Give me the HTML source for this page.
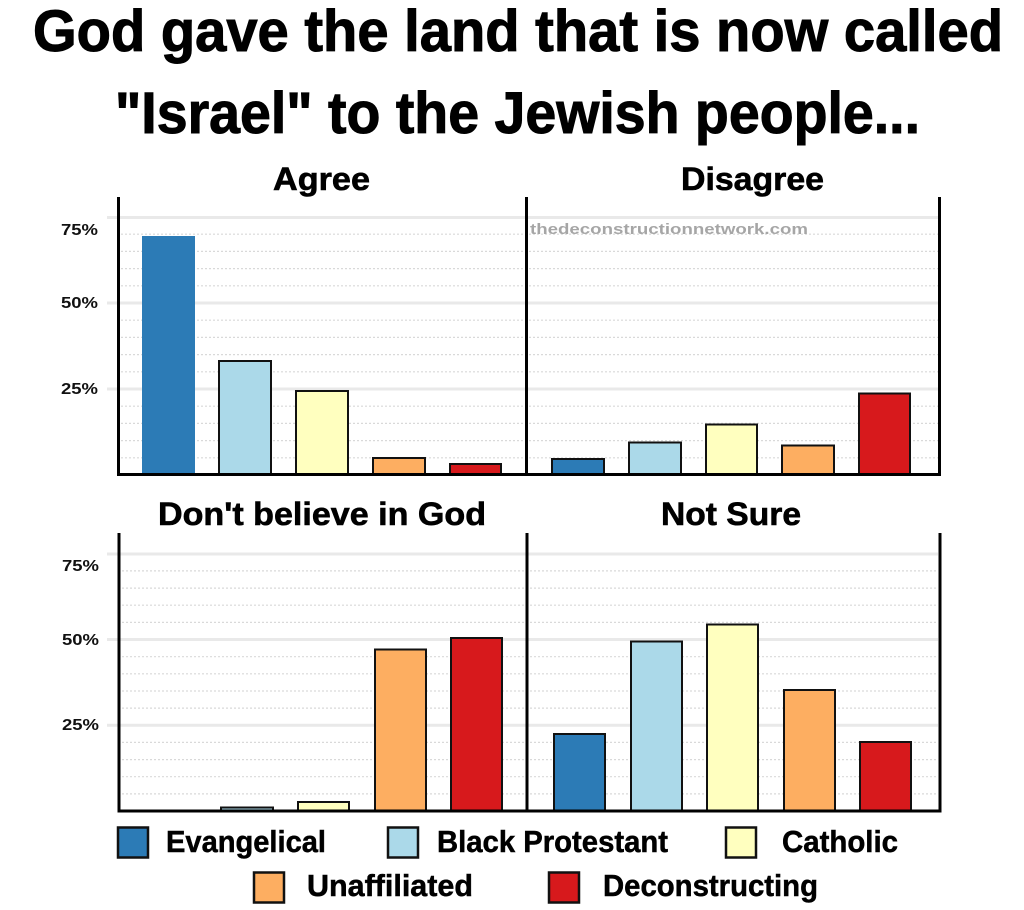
<!DOCTYPE html>
<html>
<head>
<meta charset="utf-8">
<style>
  html, body { margin: 0; padding: 0; background: #ffffff; }
  body { width: 1024px; height: 910px; overflow: hidden; }
  svg { display: block; }
  text { font-family: "Liberation Sans", Arial, sans-serif; font-weight: bold; }
</style>
</head>
<body>
<svg width="1024" height="910" viewBox="0 0 1024 910" xmlns="http://www.w3.org/2000/svg">
  <rect x="0" y="0" width="1024" height="910" fill="#ffffff"/>

  <!-- Main title -->
  <text x="33" y="51" font-size="58" fill="#000" stroke="#000" stroke-width="1" textLength="970" lengthAdjust="spacingAndGlyphs">God gave the land that is now called</text>
  <text x="115" y="133" font-size="58" fill="#000" stroke="#000" stroke-width="1" textLength="805" lengthAdjust="spacingAndGlyphs">"Israel" to the Jewish people...</text>

  <!-- Panel titles -->
  <g fill="#000" stroke="#000" stroke-width="0.6" font-size="32">
    <text x="273" y="190" textLength="97" lengthAdjust="spacingAndGlyphs">Agree</text>
    <text x="681" y="190" textLength="143" lengthAdjust="spacingAndGlyphs">Disagree</text>
    <text x="158" y="525" textLength="328" lengthAdjust="spacingAndGlyphs">Don't believe in God</text>
    <text x="661" y="525" textLength="140" lengthAdjust="spacingAndGlyphs">Not Sure</text>
  </g>

  <!-- ===== TOP ROW GRID ===== -->
  <g stroke="#d9d9d9" stroke-width="1.2" stroke-dasharray="2,2" fill="none">
    <line x1="121" x2="938" y1="457.8" y2="457.8"/>
    <line x1="121" x2="938" y1="440.6" y2="440.6"/>
    <line x1="121" x2="938" y1="423.4" y2="423.4"/>
    <line x1="121" x2="938" y1="406.2" y2="406.2"/>
    <line x1="121" x2="938" y1="371.8" y2="371.8"/>
    <line x1="121" x2="938" y1="354.6" y2="354.6"/>
    <line x1="121" x2="938" y1="337.4" y2="337.4"/>
    <line x1="121" x2="938" y1="320.2" y2="320.2"/>
    <line x1="121" x2="938" y1="285.8" y2="285.8"/>
    <line x1="121" x2="938" y1="268.6" y2="268.6"/>
    <line x1="121" x2="938" y1="251.4" y2="251.4"/>
    <line x1="121" x2="938" y1="234.2" y2="234.2"/>
  </g>
  <g stroke="#e9e9e9" stroke-width="3" fill="none">
    <line x1="107" x2="938" y1="217.5" y2="217.5"/>
    <line x1="107" x2="938" y1="303" y2="303"/>
    <line x1="107" x2="938" y1="389" y2="389"/>
  </g>

  <!-- ===== BOTTOM ROW GRID ===== -->
  <g stroke="#d9d9d9" stroke-width="1.2" stroke-dasharray="2,2" fill="none">
    <line x1="122" x2="938" y1="793.9" y2="793.9"/>
    <line x1="122" x2="938" y1="776.7" y2="776.7"/>
    <line x1="122" x2="938" y1="759.6" y2="759.6"/>
    <line x1="122" x2="938" y1="742.4" y2="742.4"/>
    <line x1="122" x2="938" y1="708.1" y2="708.1"/>
    <line x1="122" x2="938" y1="691" y2="691"/>
    <line x1="122" x2="938" y1="673.8" y2="673.8"/>
    <line x1="122" x2="938" y1="656.7" y2="656.7"/>
    <line x1="122" x2="938" y1="622.4" y2="622.4"/>
    <line x1="122" x2="938" y1="605.2" y2="605.2"/>
    <line x1="122" x2="938" y1="588.1" y2="588.1"/>
    <line x1="122" x2="938" y1="570.9" y2="570.9"/>
  </g>
  <g stroke="#e9e9e9" stroke-width="3" fill="none">
    <line x1="107" x2="938" y1="554" y2="554"/>
    <line x1="107" x2="938" y1="639.5" y2="639.5"/>
    <line x1="107" x2="938" y1="725.3" y2="725.3"/>
  </g>

  <!-- Watermark -->
  <text x="530" y="234" font-size="15" fill="#a6a6a6" textLength="278" lengthAdjust="spacingAndGlyphs">thedeconstructionnetwork.com</text>

  <!-- Y tick labels -->
  <g font-size="16" fill="#111">
    <text x="61" y="235" textLength="37" lengthAdjust="spacingAndGlyphs">75%</text>
    <text x="61" y="308" textLength="37" lengthAdjust="spacingAndGlyphs">50%</text>
    <text x="61" y="394" textLength="37" lengthAdjust="spacingAndGlyphs">25%</text>
    <text x="62" y="571" textLength="37" lengthAdjust="spacingAndGlyphs">75%</text>
    <text x="62" y="645" textLength="37" lengthAdjust="spacingAndGlyphs">50%</text>
    <text x="62" y="730" textLength="37" lengthAdjust="spacingAndGlyphs">25%</text>
  </g>

  <!-- ===== BARS: Agree ===== -->
  <g stroke="#111" stroke-width="2">
    <rect x="142" y="236" width="53" height="238" fill="#2c7bb6" stroke="none"/>
    <rect x="219" y="361" width="52" height="113" fill="#abd9e9"/>
    <rect x="296" y="391" width="52" height="83" fill="#ffffbf"/>
    <rect x="373" y="458" width="52" height="16" fill="#fdae61"/>
    <rect x="450" y="464" width="51" height="10" fill="#d7191c"/>
  </g>

  <!-- ===== BARS: Disagree ===== -->
  <g stroke="#111" stroke-width="2">
    <rect x="552" y="459" width="52" height="15" fill="#2c7bb6"/>
    <rect x="629" y="442.5" width="52" height="31.5" fill="#abd9e9"/>
    <rect x="706" y="424.5" width="51" height="49.5" fill="#ffffbf"/>
    <rect x="782" y="445.5" width="52" height="28.5" fill="#fdae61"/>
    <rect x="859" y="393.5" width="51" height="80.5" fill="#d7191c"/>
  </g>

  <!-- ===== BARS: Don't believe in God ===== -->
  <g stroke="#111" stroke-width="2">
    <rect x="221" y="807.5" width="52" height="3.5" fill="#abd9e9"/>
    <rect x="298" y="802" width="51" height="9" fill="#ffffbf"/>
    <rect x="375" y="649.5" width="51" height="161.5" fill="#fdae61"/>
    <rect x="451" y="638" width="51" height="173" fill="#d7191c"/>
  </g>

  <!-- ===== BARS: Not Sure ===== -->
  <g stroke="#111" stroke-width="2">
    <rect x="554" y="734" width="51" height="77" fill="#2c7bb6"/>
    <rect x="631" y="641.5" width="51" height="169.5" fill="#abd9e9"/>
    <rect x="707" y="624.5" width="51" height="186.5" fill="#ffffbf"/>
    <rect x="784" y="690" width="51" height="121" fill="#fdae61"/>
    <rect x="860" y="742" width="51" height="69" fill="#d7191c"/>
  </g>

  <!-- ===== AXES ===== -->
  <g stroke="#000" stroke-width="3" fill="none">
    <line x1="118.5" x2="118.5" y1="197" y2="476"/>
    <line x1="526.5" x2="526.5" y1="197" y2="476"/>
    <line x1="939.5" x2="939.5" y1="197" y2="476"/>
    <line x1="117" x2="941" y1="474.5" y2="474.5"/>
    <line x1="119" x2="119" y1="533" y2="812.5"/>
    <line x1="527" x2="527" y1="533" y2="812.5"/>
    <line x1="940" x2="940" y1="533" y2="812.5"/>
    <line x1="117.5" x2="941.5" y1="811" y2="811"/>
  </g>

  <!-- ===== LEGEND ===== -->
  <g stroke="#111" stroke-width="2.5">
    <rect x="118" y="827.5" width="30" height="30" fill="#2c7bb6"/>
    <rect x="388" y="827.5" width="30" height="30" fill="#abd9e9"/>
    <rect x="726" y="827.5" width="30" height="30" fill="#ffffbf"/>
    <rect x="254" y="872.5" width="30" height="30" fill="#fdae61"/>
    <rect x="549" y="872.5" width="30" height="30" fill="#d7191c"/>
  </g>
  <g font-size="31" fill="#000" stroke="#000" stroke-width="0.5">
    <text x="166" y="852" textLength="160" lengthAdjust="spacingAndGlyphs">Evangelical</text>
    <text x="437" y="852" textLength="231" lengthAdjust="spacingAndGlyphs">Black Protestant</text>
    <text x="782" y="852" textLength="116" lengthAdjust="spacingAndGlyphs">Catholic</text>
    <text x="307" y="896" textLength="166" lengthAdjust="spacingAndGlyphs">Unaffiliated</text>
    <text x="603" y="896" textLength="215" lengthAdjust="spacingAndGlyphs">Deconstructing</text>
  </g>
</svg>
</body>
</html>
